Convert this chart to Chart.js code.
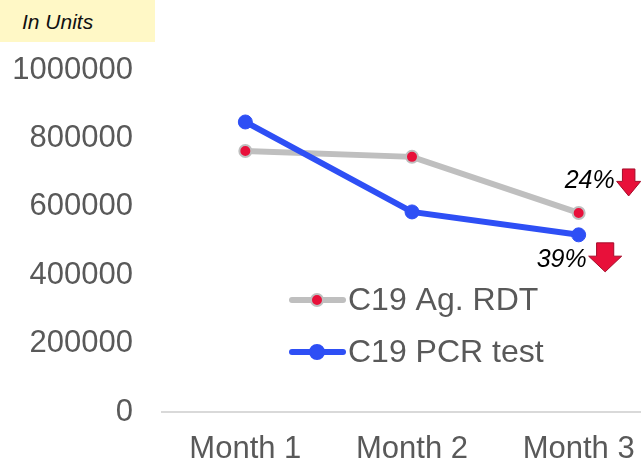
<!DOCTYPE html>
<html>
<head>
<meta charset="utf-8">
<script src="https://cdn.jsdelivr.net/npm/chart.js@4"></script>
<style>
  body { margin: 0; overflow: hidden; background: #fff; }
  #units {
    position: absolute; left: 0; top: 0; width: 155px; height: 42px;
    background: #fff8c6; font: italic 21px "Liberation Sans", Arial, sans-serif;
    color: #111; line-height: 44px; padding-left: 22px; box-sizing: border-box;
  }
  #wrap { position: absolute; left: 0; top: 0; }
</style>
</head>
<body>
<div id="wrap"><canvas id="testChart" width="662" height="467"></canvas></div>
<div id="units">In Units</div>
<script>
const months = ["Month 1", "Month 2", "Month 3"];
const agRdt = [763000, 746000, 582000];
const pcrTest = [848000, 585000, 518000];
const yTicks = [0, 200000, 400000, 600000, 800000, 1000000];
const dropLabels = ["24%", "39%"];

const grayLine = "#bfbfbf";
const redDot = "#e8103a";
const blueLine = "#2e4ff5";
const fontName = '"Liberation Sans", Arial, sans-serif';

function drawArrow(ctx, x, y, w, h) {
  // down arrow, top-left at (x, y)
  const shaft = w * 0.52;
  const headTop = y + h * 0.46;
  ctx.beginPath();
  ctx.moveTo(x + (w - shaft) / 2, y);
  ctx.lineTo(x + (w + shaft) / 2, y);
  ctx.lineTo(x + (w + shaft) / 2, headTop);
  ctx.lineTo(x + w, headTop);
  ctx.lineTo(x + w / 2, y + h);
  ctx.lineTo(x, headTop);
  ctx.lineTo(x + (w - shaft) / 2, headTop);
  ctx.closePath();
  ctx.fillStyle = redDot;
  ctx.fill();
  ctx.strokeStyle = "#a50c2a";
  ctx.lineWidth = 1;
  ctx.stroke();
}

const extras = {
  id: "extras",
  afterDatasetsDraw(chart) {
    const ctx = chart.ctx;
    ctx.save();
    // drop labels next to the last points
    const g = chart.getDatasetMeta(0).data[2];
    const b = chart.getDatasetMeta(1).data[2];
    ctx.font = "italic 25px " + fontName;
    ctx.textAlign = "right";
    ctx.textBaseline = "middle";
    ctx.fillStyle = "#000";
    ctx.fillText(dropLabels[0], g.x + 36, g.y - 32);
    drawArrow(ctx, g.x + 38, g.y - 44, 24, 27);
    ctx.fillStyle = "#000";
    ctx.fillText(dropLabels[1], b.x + 8, b.y + 25);
    drawArrow(ctx, b.x + 10, b.y + 8, 33, 29);

    // legend inside the plot
    const items = [
      { label: "C19 Ag. RDT", line: grayLine, fill: redDot, edge: grayLine, r: 6, y: 300 },
      { label: "C19 PCR test", line: blueLine, fill: blueLine, edge: blueLine, r: 7, y: 352 }
    ];
    items.forEach(it => {
      ctx.strokeStyle = it.line;
      ctx.lineWidth = 6;
      ctx.lineCap = "round";
      ctx.beginPath();
      ctx.moveTo(292, it.y);
      ctx.lineTo(343, it.y);
      ctx.stroke();
      ctx.beginPath();
      ctx.arc(317, it.y, it.r, 0, Math.PI * 2);
      ctx.fillStyle = it.fill;
      ctx.fill();
      ctx.lineWidth = 2;
      ctx.strokeStyle = it.edge;
      ctx.stroke();
      ctx.font = "32px " + fontName;
      ctx.fillStyle = "#595959";
      ctx.textAlign = "left";
      ctx.fillText(it.label, 348, it.y + 1);
    });
    ctx.restore();
  }
};

new Chart(document.getElementById("testChart"), {
  type: "line",
  data: {
    labels: months,
    datasets: [{
      label: "C19 Ag. RDT",
      data: agRdt,
      borderColor: grayLine,
      borderWidth: 6,
      pointRadius: 6,
      pointBackgroundColor: redDot,
      pointBorderColor: grayLine,
      pointBorderWidth: 2,
      order: 2
    }, {
      label: "C19 PCR test",
      data: pcrTest,
      borderColor: blueLine,
      borderWidth: 6,
      pointRadius: 7,
      pointBackgroundColor: blueLine,
      pointBorderColor: blueLine,
      pointBorderWidth: 1,
      order: 1
    }]
  },
  options: {
    responsive: false,
    animation: false,
    devicePixelRatio: 1,
    layout: { autoPadding: false, padding: { top: 70, right: 0, left: 0, bottom: 0 } },
    plugins: { legend: { display: false }, tooltip: { enabled: false } },
    scales: {
      x: {
        offset: true,
        afterFit(scale) { scale.height = 55; },
        grid: { display: false, drawTicks: false },
        border: { color: "#d9d9d9", width: 2 },
        ticks: { color: "#595959", font: { family: fontName, size: 31 }, padding: 19 }
      },
      y: {
        min: 0,
        max: 1000000,
        afterFit(scale) { scale.width = 162; },
        afterBuildTicks(scale) { scale.ticks = yTicks.map(v => ({ value: v })); },
        grid: { display: false, drawTicks: false },
        border: { display: false },
        ticks: {
          color: "#595959",
          font: { family: fontName, size: 31 },
          padding: 29,
          callback: v => String(v)
        }
      }
    }
  },
  plugins: [extras]
});
</script>
</body>
</html>
